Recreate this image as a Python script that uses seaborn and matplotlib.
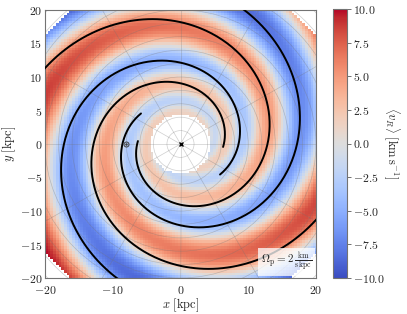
import numpy as np
import pandas as pd
import matplotlib
matplotlib.use("Agg")
import matplotlib.pyplot as plt
from matplotlib.patches import Circle
import seaborn as sns

# ---------------- values ----------------
pitch_angle_deg = 12.5            # pitch of the log-spiral arms / velocity pattern
field_arms = 2                    # m of the velocity pattern
ridge_phase = 1.5                 # rad, phase of the positive (red) ridges
field_centre = (0.9, 0.5)         # kpc, centre of the velocity pattern
amp_radius = [4, 6, 8, 10, 12, 14, 16, 18, 20, 22, 24, 26]
amp_value = [1.4, 2.1, 2.9, 3.8, 4.8, 5.6, 6.4, 7.1, 7.9, 8.8, 9.5, 10.0]
r_hole = 4.4                      # kpc, empty centre
r_edge = 25.6                     # kpc, outer edge of coverage
bin_size = 0.4                    # kpc

arm_start_phi = [176, -4, 142, -38]   # deg, inner ends of the black arms
arm_start_r = [6.3, 6.3, 7.4, 7.4]    # kpc

sun_x, sun_y = -8.1, 0.0
gc_x, gc_y = 0.0, 0.0
ring_radii = [2, 4, 6, 8, 10, 12, 14, 16, 18, 20, 22, 24, 26, 28]
spoke_angles = [0, 30, 60, 90, 120, 150, 180, 210, 240, 270, 300, 330]

x_ticks = [-20, -10, 0, 10, 20]
y_ticks = [-20, -15, -10, -5, 0, 5, 10, 15, 20]
cbar_ticks = [-10.0, -7.5, -5.0, -2.5, 0.0, 2.5, 5.0, 7.5, 10.0]
pattern_label = r"$\Omega_\mathrm{p} = 2\,\frac{\mathrm{km}}{\mathrm{s\,kpc}}$"

# ---------------- style ----------------
sns.set_theme(style="ticks")
plt.rcParams["mathtext.fontset"] = "cm"
plt.rcParams["font.family"] = ["DejaVu Serif"]

fig = plt.figure(figsize=(4.07, 3.14), dpi=100)
ax = fig.add_axes([45 / 407, 1 - 278 / 314, 271 / 407, 268 / 314])
cax = fig.add_axes([333 / 407, 1 - 278 / 314, 14 / 407, 269 / 314])

# ---------------- velocity field ----------------
k = np.tan(np.radians(pitch_angle_deg))
edges = np.arange(-26.0, 26.0 + bin_size / 2, bin_size)
cent = 0.5 * (edges[:-1] + edges[1:])
X, Y = np.meshgrid(cent, cent)
Xr, Yr = X - field_centre[0], Y - field_centre[1]
R = np.hypot(Xr, Yr)
PHI = np.arctan2(Yr, Xr)
psi = PHI - np.log(R) / k
amp = np.interp(R, amp_radius, amp_value)
V = amp * np.cos(field_arms * (psi - ridge_phase))
R0 = np.hypot(X, Y)
V = np.ma.masked_where((R0 < r_hole) | (R0 > r_edge), V)

mesh = ax.pcolormesh(edges, edges, V, cmap="coolwarm", vmin=-10, vmax=10,
                     shading="flat", zorder=1)

# ---------------- polar grid ----------------
for rr in ring_radii:
    ax.add_patch(Circle((0, 0), rr, fill=False, ec="0.45", lw=0.5,
                        alpha=0.35, zorder=2))
for a in spoke_angles:
    t = np.radians(a)
    ax.plot([0, 30 * np.cos(t)], [0, 30 * np.sin(t)], color="0.45", lw=0.5,
            alpha=0.35, zorder=2)

# ---------------- spiral arms ----------------
rows = []
for i, (p0, r0) in enumerate(zip(arm_start_phi, arm_start_r)):
    phi = np.radians(np.linspace(p0, p0 + 600, 600))
    r = r0 * np.exp(k * (phi - phi[0]))
    rows.append(pd.DataFrame({"x": r * np.cos(phi), "y": r * np.sin(phi),
                              "arm": i}))
arms = pd.concat(rows, ignore_index=True)
sns.lineplot(data=arms, x="x", y="y", units="arm", estimator=None, sort=False,
             color="black", lw=1.4, ax=ax, legend=False, zorder=3)

# ---------------- markers ----------------
ax.plot(sun_x, sun_y, marker="o", mfc="none", mec="0.25", ms=3.6, mew=0.7,
        zorder=4)
ax.plot(sun_x, sun_y, marker=".", color="0.25", ms=1.5, zorder=4)
ax.plot(gc_x, gc_y, marker="x", color="black", ms=3.2, mew=1.0, zorder=4)

ax.text(0.985, 0.018, pattern_label, transform=ax.transAxes, ha="right",
        va="bottom", fontsize=8,
        bbox=dict(boxstyle="square,pad=0.25", fc="white", ec="none",
                  alpha=0.75), zorder=5)

# ---------------- axes ----------------
ax.set_xlim(-20, 20)
ax.set_ylim(-20, 20)
ax.set_xticks(x_ticks)
ax.set_xticklabels([f"${v}$" for v in x_ticks])
ax.set_yticks(y_ticks)
ax.set_yticklabels([f"${v}$" for v in y_ticks])
ax.tick_params(direction="in", length=3, width=0.6, color="0.35",
               labelsize=8.5, pad=2)
ax.tick_params(axis="x", pad=4)
ax.set_xlabel(r"$x\ [\mathrm{kpc}]$", fontsize=9, labelpad=0)
ax.set_ylabel(r"$y\ [\mathrm{kpc}]$", fontsize=9, labelpad=1)
for s in ax.spines.values():
    s.set_color("0.45")
    s.set_linewidth(0.8)

cb = fig.colorbar(mesh, cax=cax, ticks=cbar_ticks)
cb.ax.set_yticklabels([f"${v:.1f}$" for v in cbar_ticks])
cb.ax.tick_params(direction="out", length=3, width=0.6, color="0.35",
                  labelsize=8.5, pad=1)
cb.outline.set_edgecolor("0.45")
cb.outline.set_linewidth(0.8)
cb.set_label(r"$\langle v_R\rangle\ [\mathrm{km\,s^{-1}}]$", fontsize=9,
             rotation=270, labelpad=12)

fig.savefig("out.png", dpi=100)
